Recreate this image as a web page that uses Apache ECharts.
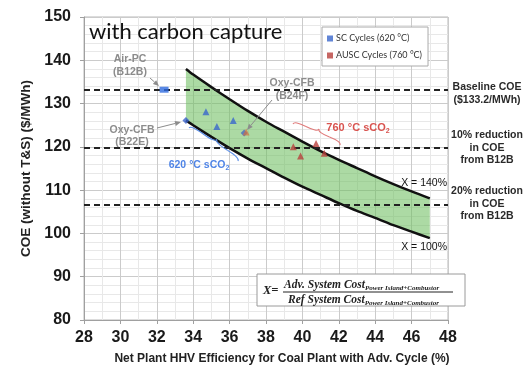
<!DOCTYPE html>
<html><head><meta charset="utf-8">
<script src="https://cdn.jsdelivr.net/npm/echarts@6/dist/echarts.min.js"></script>
<style>html,body{margin:0;padding:0;background:#fff}#c{width:525px;height:370px}</style>
</head><body><div id="c"></div>
<script>
// Net plant efficiency (%) at which the cost envelopes are given
const effPts  = [33.6, 34, 35, 36, 37, 38, 39, 40, 41, 42, 43, 44, 45, 46, 47];
// COE envelope, X = 140 % (upper edge) and X = 100 % (lower edge), $/MWh
const coeX140 = [138.0, 136.7, 133.8, 131.0, 128.3, 125.8, 123.5, 121.2, 119.0, 117.0, 115.1, 113.2, 111.4, 109.7, 108.1];
const coeX100 = [126.1, 125.0, 122.3, 119.7, 117.3, 115.1, 112.9, 110.8, 108.9, 107.0, 105.2, 103.6, 101.9, 100.4, 98.9];
// Baseline COE and the 10 % / 20 % reduction levels
const refLevels = [133.2, 119.9, 106.6];
// Cycle results: [efficiency %, COE $/MWh]
const scCycles   = [[34.7, 128.1], [35.3, 124.7], [36.2, 126.1]];
const auscCycles = [[39.5, 120.0], [39.9, 117.9], [40.75, 120.8], [41.2, 118.5]];
const airPC      = [[32.4, 133.2]];
const oxyB22E    = [[33.6, 126.1]];
const oxyB24F    = [[36.8, 123.2]];
// Axis tick labels
const xTickLabels = [28, 30, 32, 34, 36, 38, 40, 42, 44, 46, 48];
const yTickLabels = [80, 90, 100, 110, 120, 130, 140, 150];

const SC_NAME = 'SC Cycles (620 °C)';
const AUSC_NAME = 'AUSC Cycles (760 °C)';

function arrow(x1, y1, x2, y2, color) {
  const dx = x2 - x1, dy = y2 - y1, L = Math.hypot(dx, dy);
  const ux = dx / L, uy = dy / L, h = 6, w = 2.5;
  const bx = x2 - ux * h, by = y2 - uy * h;
  return [
    {type: 'line', shape: {x1, y1, x2: bx, y2: by}, style: {stroke: color, lineWidth: 1}, z: 20},
    {type: 'polygon', shape: {points: [[x2, y2], [bx - uy * w, by + ux * w], [bx + uy * w, by - ux * w]]},
     style: {fill: color}, z: 20}
  ];
}

// Curly brace between two points, tip bulging to side s (+1 / -1)
function brace(x1, y1, x2, y2, depth, s, color) {
  const dx = x2 - x1, dy = y2 - y1, L = Math.hypot(dx, dy);
  const ux = dx / L, uy = dy / L;
  const nx = -uy * s, ny = ux * s;
  const P = (a, b) => [x1 + ux * a + nx * b, y1 + uy * a + ny * b];
  const w = depth, q = 0.6;
  const seg = (a, c, b) => ({type: 'bezierCurve',
    shape: {x1: a[0], y1: a[1], cpx1: c[0], cpy1: c[1], x2: b[0], y2: b[1]},
    style: {stroke: color, fill: null, lineWidth: 1.1}, z: 20});
  return [
    seg(P(0, 0), P(0, w * q), P(L / 4, w / 2)),
    seg(P(L / 4, w / 2), P(L / 2, w * (1 - q)), P(L / 2, w)),
    seg(P(L, 0), P(L, w * q), P(3 * L / 4, w / 2)),
    seg(P(3 * L / 4, w / 2), P(L / 2, w * (1 - q)), P(L / 2, w))
  ];
}

const gray = '#8c8c8c';
const sideFont = {fontFamily: 'Liberation Sans', fontWeight: 'bold', fontSize: 10.5, fill: '#2a2a2a', textAlign: 'center', lineHeight: 12.5};
const serif = {fontFamily: 'Liberation Serif', fontWeight: 'bold', fontStyle: 'italic', fill: '#222'};

const graphics = [
  {type: 'text', x: 89, y: 32, style: {text: 'with carbon capture', fontFamily: 'Lato', fontSize: 22, fill: '#111', textVerticalAlign: 'middle'}, z: 20},
  // gray case labels
  {type: 'text', x: 130, y: 66, style: {text: 'Air-PC\n(B12B)', fontFamily: 'Liberation Sans', fontWeight: 'bold', fontSize: 10.5, fill: gray, textAlign: 'center', textVerticalAlign: 'middle', lineHeight: 13}, z: 20},
  {type: 'text', x: 132, y: 136, style: {text: 'Oxy-CFB\n(B22E)', fontFamily: 'Liberation Sans', fontWeight: 'bold', fontSize: 10.5, fill: gray, textAlign: 'center', textVerticalAlign: 'middle', lineHeight: 12.5}, z: 20},
  {type: 'text', x: 292, y: 90, style: {text: 'Oxy-CFB\n(B24F)', fontFamily: 'Liberation Sans', fontWeight: 'bold', fontSize: 10.5, fill: gray, textAlign: 'center', textVerticalAlign: 'middle', lineHeight: 13}, z: 20},
  ...arrow(150, 78, 159, 86, gray),
  ...arrow(157, 128, 181, 122, gray),
  ...arrow(272, 100, 247, 130, gray),
  // temperature groups
  ...brace(189, 128, 238, 161, 6, -1, '#5b8ee6'),
  {type: 'text', x: 199, y: 165, style: {text: '{a|620 °C sCO}{s|2}', textAlign: 'center', textVerticalAlign: 'middle',
    rich: {a: {fontFamily: 'Liberation Sans', fontWeight: 'bold', fontSize: 10.5, fill: '#4f84e6', lineHeight: 14},
           s: {fontFamily: 'Liberation Sans', fontWeight: 'bold', fontSize: 7, fill: '#4f84e6', lineHeight: 14, verticalAlign: 'bottom'}}}, z: 20},
  ...brace(293, 124, 340, 145, 6, -1, '#e07a7a'),
  {type: 'text', x: 358, y: 128, style: {text: '{a|760 °C sCO}{s|2}', textAlign: 'center', textVerticalAlign: 'middle',
    rich: {a: {fontFamily: 'Liberation Sans', fontWeight: 'bold', fontSize: 11, fill: '#d9534f', lineHeight: 14},
           s: {fontFamily: 'Liberation Sans', fontWeight: 'bold', fontSize: 7, fill: '#d9534f', lineHeight: 14, verticalAlign: 'bottom'}}}, z: 20},
  // envelope labels
  {type: 'text', x: 447, y: 183, style: {text: 'X = 140%', fontFamily: 'Liberation Sans', fontSize: 10.5, fill: '#111', textAlign: 'right', textVerticalAlign: 'middle'}, z: 20},
  {type: 'text', x: 447, y: 247, style: {text: 'X = 100%', fontFamily: 'Liberation Sans', fontSize: 10.5, fill: '#111', textAlign: 'right', textVerticalAlign: 'middle'}, z: 20},
  // reference-level captions to the right of the plot
  {type: 'text', x: 487, y: 81, style: Object.assign({text: 'Baseline COE\n($133.2/MWh)'}, sideFont), z: 20},
  {type: 'text', x: 487, y: 129, style: Object.assign({text: '10% reduction\nin COE\nfrom B12B'}, sideFont), z: 20},
  {type: 'text', x: 487, y: 185, style: Object.assign({text: '20% reduction\nin COE\nfrom B12B'}, sideFont), z: 20},
  // cost-ratio definition
  {type: 'rect', shape: {x: 257, y: 274, width: 208, height: 32}, style: {fill: '#fff', stroke: '#9a9a9a', lineWidth: 1}, z: 19},
  {type: 'text', x: 263, y: 291, style: Object.assign({text: 'X=', fontSize: 12.5, textVerticalAlign: 'middle'}, serif), z: 20},
  {type: 'text', x: 284, y: 285, style: {text: '{m|Adv. System Cost}{s|Power Island+Combustor}', textVerticalAlign: 'middle',
    rich: {m: Object.assign({fontSize: 11.5, lineHeight: 14}, serif), s: Object.assign({fontSize: 7, lineHeight: 14, verticalAlign: 'bottom'}, serif)}}, z: 20},
  {type: 'line', shape: {x1: 283, y1: 292, x2: 453, y2: 292}, style: {stroke: '#222', lineWidth: 1}, z: 20},
  {type: 'text', x: 288, y: 300, style: {text: '{m|Ref System Cost}{s|Power Island+Combustor}', textVerticalAlign: 'middle',
    rich: {m: Object.assign({fontSize: 11.5, lineHeight: 14}, serif), s: Object.assign({fontSize: 7, lineHeight: 14, verticalAlign: 'bottom'}, serif)}}, z: 20}
];

const chart = echarts.init(document.getElementById('c'), null, {renderer: 'canvas'});
chart.setOption({
  animation: false,
  backgroundColor: '#fff',
  grid: {left: 84, right: 77, top: 17, bottom: 50, show: true, borderColor: '#b8b8b8', borderWidth: 1},
  legend: {
    data: [{name: SC_NAME, icon: 'rect'}, {name: AUSC_NAME, icon: 'rect'}],
    orient: 'vertical', left: 322, top: 27, itemWidth: 6, itemHeight: 6, itemGap: 8,
    padding: [7, 6, 6, 5], borderColor: '#aaa', borderWidth: 1, backgroundColor: '#fff',
    textStyle: {fontFamily: 'Lato', fontSize: 9, color: '#333', padding: [0, 0, 0, -2]}
  },
  xAxis: {
    type: 'value', min: xTickLabels[0], max: xTickLabels[xTickLabels.length - 1], interval: 2,
    name: 'Net Plant HHV Efficiency for Coal Plant with Adv. Cycle (%)', nameLocation: 'middle', nameGap: 33,
    nameTextStyle: {fontFamily: 'Liberation Sans', fontWeight: 'bold', fontSize: 12, color: '#222', padding: [0, 0, 0, 32]},
    axisLine: {show: true, onZero: false, lineStyle: {color: '#a0a0a0'}},
    axisTick: {show: true, length: 4, lineStyle: {color: '#a0a0a0'}},
    axisLabel: {fontFamily: 'Liberation Sans', fontWeight: 'bold', fontSize: 16, color: '#1a1a1a', margin: 10},
    splitLine: {show: true, lineStyle: {color: '#cbcbcb', width: 1}},
    minorTick: {show: false, splitNumber: 2},
    minorSplitLine: {show: true, lineStyle: {color: '#e8e8e8', width: 1}}
  },
  yAxis: {
    type: 'value', min: yTickLabels[0], max: yTickLabels[yTickLabels.length - 1], interval: 10,
    name: 'COE (without T&S) ($/MWh)', nameLocation: 'middle', nameGap: 45,
    nameTextStyle: {fontFamily: 'Liberation Sans', fontWeight: 'bold', fontSize: 13.5, color: '#222'},
    axisLine: {show: true, lineStyle: {color: '#a0a0a0'}},
    axisTick: {show: true, length: 4, lineStyle: {color: '#a0a0a0'}},
    axisLabel: {fontFamily: 'Liberation Sans', fontWeight: 'bold', fontSize: 16, color: '#1a1a1a', margin: 13},
    splitLine: {show: true, lineStyle: {color: '#cbcbcb', width: 1}},
    minorTick: {show: false, splitNumber: 5},
    minorSplitLine: {show: true, lineStyle: {color: '#e8e8e8', width: 1}}
  },
  series: [
    {
      // shaded band between the two envelopes
      type: 'custom', silent: true, z: 1,
      data: [[effPts[0], coeX100[0]]],
      renderItem: function (params, api) {
        const pts = [];
        effPts.forEach((x, i) => pts.push(api.coord([x, coeX140[i]])));
        for (let i = effPts.length - 1; i >= 0; i--) pts.push(api.coord([effPts[i], coeX100[i]]));
        return {type: 'polygon', shape: {points: pts}, style: {fill: 'rgba(112,192,98,0.58)'}};
      }
    },
    {
      name: 'X = 140%', type: 'line', data: effPts.map((x, i) => [x, coeX140[i]]),
      symbol: 'none', smooth: 0.3, lineStyle: {color: '#111', width: 2.5}, z: 3, silent: true
    },
    {
      name: 'X = 100%', type: 'line', data: effPts.map((x, i) => [x, coeX100[i]]),
      symbol: 'none', smooth: 0.3, lineStyle: {color: '#111', width: 2.5}, z: 3, silent: true,
      markLine: {
        silent: true, symbol: 'none', label: {show: false},
        lineStyle: {color: '#222', type: [6, 4], width: 1.8},
        data: refLevels.map(v => ({yAxis: v}))
      }
    },
    {name: SC_NAME, type: 'scatter', data: scCycles, symbol: 'triangle', symbolSize: 7, itemStyle: {color: '#3a66cc'}, z: 5},
    {name: AUSC_NAME, type: 'scatter', data: auscCycles, symbol: 'triangle', symbolSize: 7, itemStyle: {color: '#b8403c'}, z: 5},
    {name: 'Air-PC (B12B)', type: 'scatter', data: airPC, symbol: 'rect', symbolSize: [9, 6], itemStyle: {color: '#2f6be0'}, z: 5},
    {name: 'Oxy-CFB (B22E)', type: 'scatter', data: oxyB22E, symbol: 'diamond', symbolSize: 7, itemStyle: {color: '#3a62c8'}, z: 5},
    {name: 'Oxy-CFB (B24F) SC', type: 'scatter', data: oxyB24F, symbol: 'diamond', symbolSize: 7, itemStyle: {color: '#4a6ac0'}, z: 5},
    {name: 'Oxy-CFB (B24F) AUSC', type: 'scatter', data: oxyB24F, symbol: 'triangle', symbolSize: 7, symbolOffset: [2, -1], itemStyle: {color: 'rgba(214,110,60,0.85)'}, z: 6}
  ],
  graphic: {elements: graphics}
});
</script>
</body></html>
